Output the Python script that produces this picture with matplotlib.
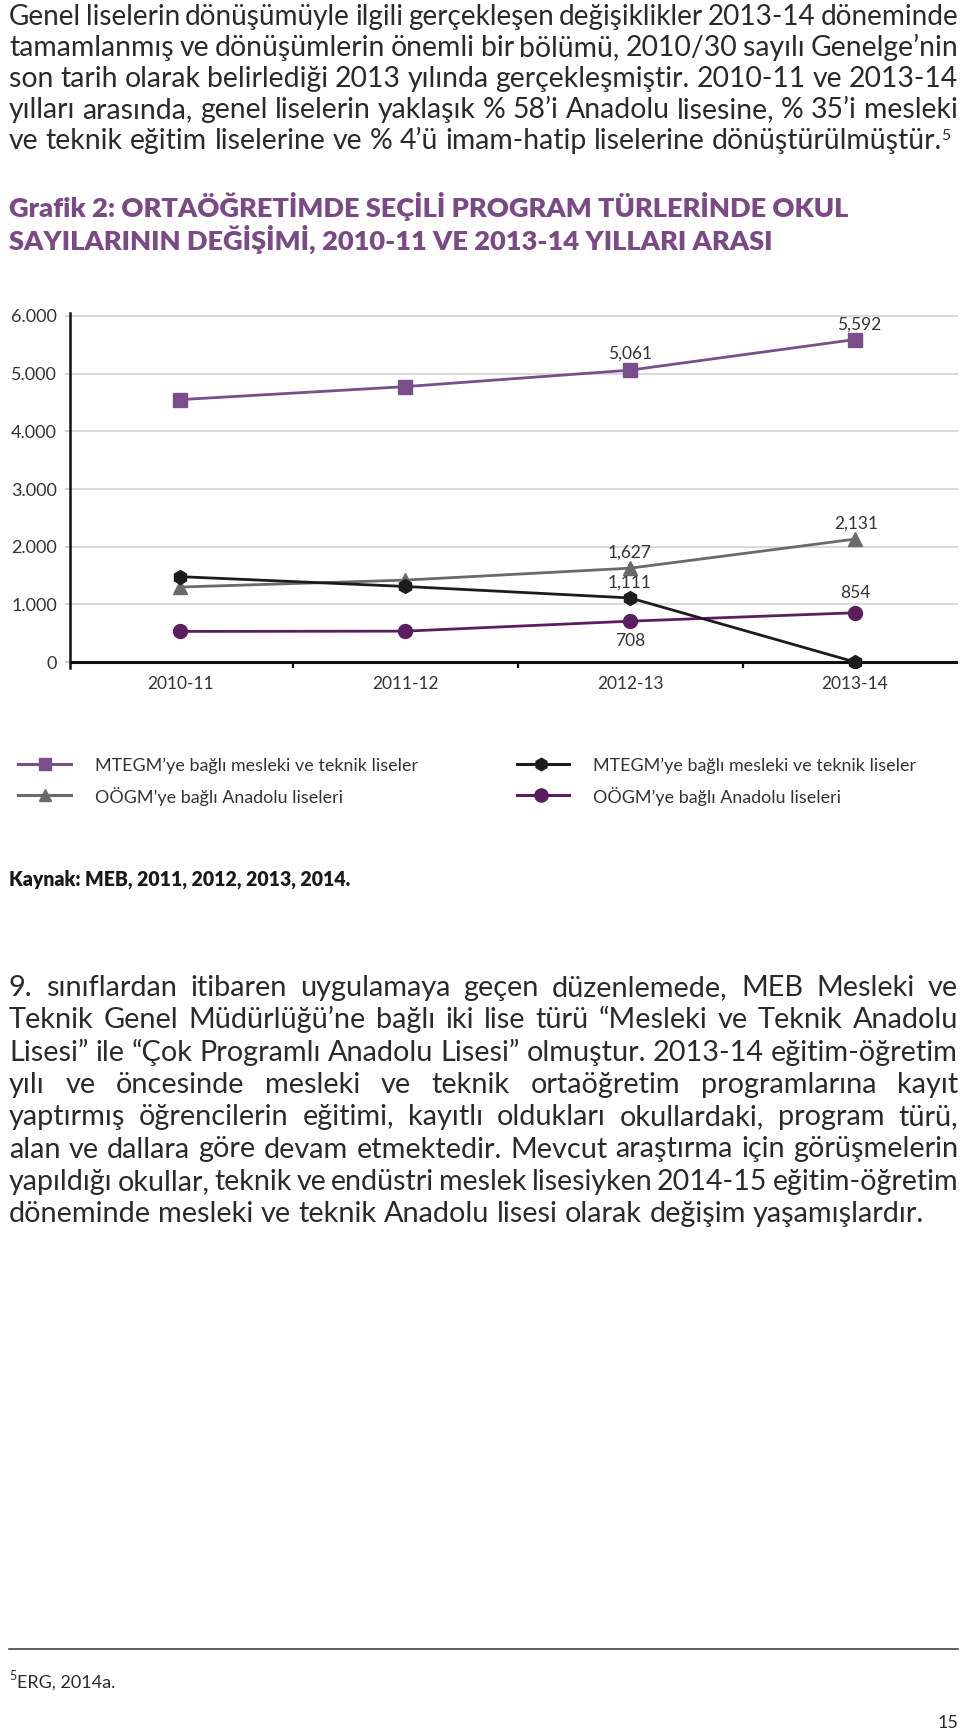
import matplotlib
matplotlib.use('Agg')
import matplotlib.pyplot as plt
from matplotlib.lines import Line2D
import numpy as np

W, H, DPI = 960, 1732, 100

# ---------------- data ----------------
years = ['2010-11', '2011-12', '2012-13', '2013-14']
mtegm_total = [4550, 4775, 5061, 5592]   # squares
oogm_total = [1300, 1420, 1627, 2131]    # triangles
mtegm_sub = [1480, 1310, 1111, 0]        # hexagons
oogm_sub = [530, 535, 708, 854]          # circles
yticks = [0, 1000, 2000, 3000, 4000, 5000, 6000]
ytick_labels = ['0', '1.000', '2.000', '3.000', '4.000', '5.000', '6.000']

legend_labels = ['MTEGM’ye bağlı mesleki ve teknik liseler',
                 'OÖGM’ye bağlı Anadolu liseleri',
                 'MTEGM’ye bağlı mesleki ve teknik liseler',
                 'OÖGM’ye bağlı Anadolu liseleri']

para1 = ["Genel liselerin dönüşümüyle ilgili gerçekleşen değişiklikler 2013-14 döneminde",
         "tamamlanmış ve dönüşümlerin önemli bir bölümü, 2010/30 sayılı Genelge’nin",
         "son tarih olarak belirlediği 2013 yılında gerçekleşmiştir. 2010-11 ve 2013-14",
         "yılları arasında, genel liselerin yaklaşık % 58’i Anadolu lisesine, % 35’i mesleki",
         "ve teknik eğitim liselerine ve % 4’ü imam-hatip liselerine dönüştürülmüştür."]
para2 = ["9. sınıflardan itibaren uygulamaya geçen düzenlemede, MEB Mesleki ve",
         "Teknik Genel Müdürlüğü’ne bağlı iki lise türü “Mesleki ve Teknik Anadolu",
         "Lisesi” ile “Çok Programlı Anadolu Lisesi” olmuştur. 2013-14 eğitim-öğretim",
         "yılı ve öncesinde mesleki ve teknik ortaöğretim programlarına kayıt",
         "yaptırmış öğrencilerin eğitimi, kayıtlı oldukları okullardaki, program türü,",
         "alan ve dallara göre devam etmektedir. Mevcut araştırma için görüşmelerin",
         "yapıldığı okullar, teknik ve endüstri meslek lisesiyken 2014-15 eğitim-öğretim",
         "döneminde mesleki ve teknik Anadolu lisesi olarak değişim yaşamışlardır."]
title_lines = ["Grafik 2: ORTAÖĞRETİMDE SEÇİLİ PROGRAM TÜRLERİNDE OKUL",
               "SAYILARININ DEĞİŞİMİ, 2010-11 VE 2013-14 YILLARI ARASI"]
source = "Kaynak: MEB, 2011, 2012, 2013, 2014."

# ---------------- style ----------------
FONT = ['Lato', 'DejaVu Sans']
plt.rcParams['font.family'] = FONT
TXT = '#2a2a2a'
C_SQ = '#7a4e8a'
C_TR = '#6a6a6a'
C_HX = '#1c1c1c'
C_CI = '#5b1d5f'
C_TITLE = '#7b4a86'

fig = plt.figure(figsize=(W / DPI, H / DPI), dpi=DPI)
fig.patch.set_facecolor('white')
renderer = fig.canvas.get_renderer()


def fx(x):
    return x / W


def fy(y):
    return 1 - y / H


def twidth(s, **kw):
    t = fig.text(0, 0, s, **kw)
    w = t.get_window_extent(renderer).width
    t.remove()
    return w


def fit_size(s, target, **kw):
    base = 10.0
    return base * target / twidth(s, fontsize=base, **kw)


def draw_line(line, x0, x1, y, justify, size, **kw):
    words = line.split(' ')
    while True:
        widths = [twidth(w, fontsize=size, **kw) for w in words]
        space = twidth('a a', fontsize=size, **kw) - twidth('aa', fontsize=size, **kw)
        if justify and len(words) > 1:
            gap = (x1 - x0 - sum(widths)) / (len(words) - 1)
            if gap < 0.55 * space:
                size *= 0.99
                continue
        else:
            gap = space
        break
    x = x0
    for w, wd in zip(words, widths):
        fig.text(fx(x), fy(y), w, ha='left', va='baseline', fontsize=size, **kw)
        x += wd + gap
    return x - gap


# ---------------- paragraph 1 ----------------
kw_body = dict(color=TXT, family=FONT)
s1 = fit_size(para1[-1], 942 - 9, **kw_body)
p1_base = [25 + i * 31 for i in range(len(para1))]
end = 9
for i, line in enumerate(para1):
    end = draw_line(line, 9, 958, p1_base[i], i < len(para1) - 1, s1, **kw_body)
fig.text(fx(end - 1), fy(p1_base[-1] - 9), '5', fontsize=s1 * 0.55, color=TXT,
         va='baseline', ha='left')

# ---------------- title ----------------
kw_title = dict(color=C_TITLE, family=FONT, fontweight='heavy')
st = fit_size(title_lines[0], 852 - 9, **kw_title)
for i, line in enumerate(title_lines):
    fig.text(fx(9), fy(217 + i * 33), line, fontsize=st, ha='left', va='baseline', **kw_title)

# ---------------- chart ----------------
ax = fig.add_axes([fx(70), fy(668), (958 - 70) / W, (668 - 313) / H])
x = np.arange(len(years))
ax.plot(x, mtegm_total, color=C_SQ, lw=2.0, marker='s', ms=9.5, zorder=5)
ax.plot(x, oogm_total, color=C_TR, lw=2.0, marker='^', ms=10, zorder=5)
ax.plot(x, mtegm_sub, color=C_HX, lw=2.0, marker='h', ms=10, zorder=6)
ax.plot(x, oogm_sub, color=C_CI, lw=2.0, marker='o', ms=10, zorder=5)

ax.set_xlim(-0.49, 3.458)
ax.set_ylim(-104, 6052)
ax.set_yticks(yticks)
ax.set_yticklabels(ytick_labels)
ax.grid(axis='y', color='#d3d3d3', lw=1.2)
ax.set_axisbelow(True)
for s in ['top', 'right', 'bottom']:
    ax.spines[s].set_visible(False)
ax.spines['left'].set_linewidth(1.8)
ax.spines['left'].set_color('#111111')
ax.axhline(0, color='#111111', lw=2.2, zorder=3)
ax.set_xticks(x)
ax.set_xticklabels(years)
ax.set_xticks([0.5, 1.5, 2.5], minor=True)
ax.tick_params(axis='x', which='major', length=0, pad=6, labelsize=12.5, labelcolor='#333333')
ax.tick_params(axis='x', which='minor', length=4.5, width=1.6, direction='in', color='#111111')
ax.tick_params(axis='y', length=3.6, width=1.2, color='#c8c8c8', pad=5.8, labelsize=13,
               labelcolor='#333333')
ax.yaxis.get_major_ticks()[0].tick1line.set_color('#111111')

lab_kw = dict(ha='center', va='center', fontsize=12.5, color='#333333',
              textcoords='offset points')
ax.annotate('5,061', (2, mtegm_total[2]), xytext=(0, 12), **lab_kw)
ax.annotate('5,592', (3, mtegm_total[3]), xytext=(3, 11), **lab_kw)
ax.annotate('1,627', (2, oogm_total[2]), xytext=(0, 11), **lab_kw)
ax.annotate('2,131', (3, oogm_total[3]), xytext=(1, 11), **lab_kw)
ax.annotate('1,111', (2, mtegm_sub[2]), xytext=(0, 11), **lab_kw)
ax.annotate('854', (3, oogm_sub[3]), xytext=(0, 14), **lab_kw)
ax.annotate('708', (2, oogm_sub[2]), xytext=(0, -14), **lab_kw)

# ---------------- legend ----------------
leg_items = [(18, 71, 45, 764, 95, C_SQ, 's', 9),
             (18, 71, 45, 795, 95, C_TR, '^', 9),
             (517, 569, 541, 764, 593, C_HX, 'h', 9),
             (517, 569, 541, 795, 593, C_CI, 'o', 9.5)]
sl = fit_size(legend_labels[0], 417 - 95, color='#333333', family=FONT)
for (a, b, m, y, tx, c, mk, ms), lab in zip(leg_items, legend_labels):
    fig.add_artist(Line2D([fx(a), fx(b)], [fy(y), fy(y)], color=c, lw=2.2,
                          transform=fig.transFigure))
    fig.add_artist(Line2D([fx(m)], [fy(y)], color=c, marker=mk, ms=ms, ls='none',
                          transform=fig.transFigure))
    fig.text(fx(tx), fy(y), lab, fontsize=sl, color='#333333', ha='left',
             va='center_baseline')

# ---------------- source ----------------
kw_src = dict(color='#1a1a1a', family=FONT, fontweight='heavy')
ss = fit_size(source, 351 - 9, **kw_src)
fig.text(fx(9), fy(886), source, fontsize=ss, ha='left', va='baseline', **kw_src)

# ---------------- paragraph 2 ----------------
s2 = fit_size(para2[-1], 927 - 9, **kw_body)
for i, line in enumerate(para2):
    draw_line(line, 9, 958, 996 + i * 32.3, i < len(para2) - 1, s2, **kw_body)

# ---------------- footnote ----------------
fig.add_artist(Line2D([fx(9), fx(958)], [fy(1649), fy(1649)], color='#444444', lw=1.2,
                      transform=fig.transFigure))
fig.text(fx(9), fy(1680), '5', fontsize=9, color=TXT, ha='left', va='baseline')
fig.text(fx(17), fy(1688), 'ERG, 2014a.', fontsize=13, color=TXT, ha='left', va='baseline')
fig.text(fx(958), fy(1728), '15', fontsize=13, color=TXT, ha='right', va='baseline')

fig.savefig('out.png', dpi=DPI, facecolor='white')
